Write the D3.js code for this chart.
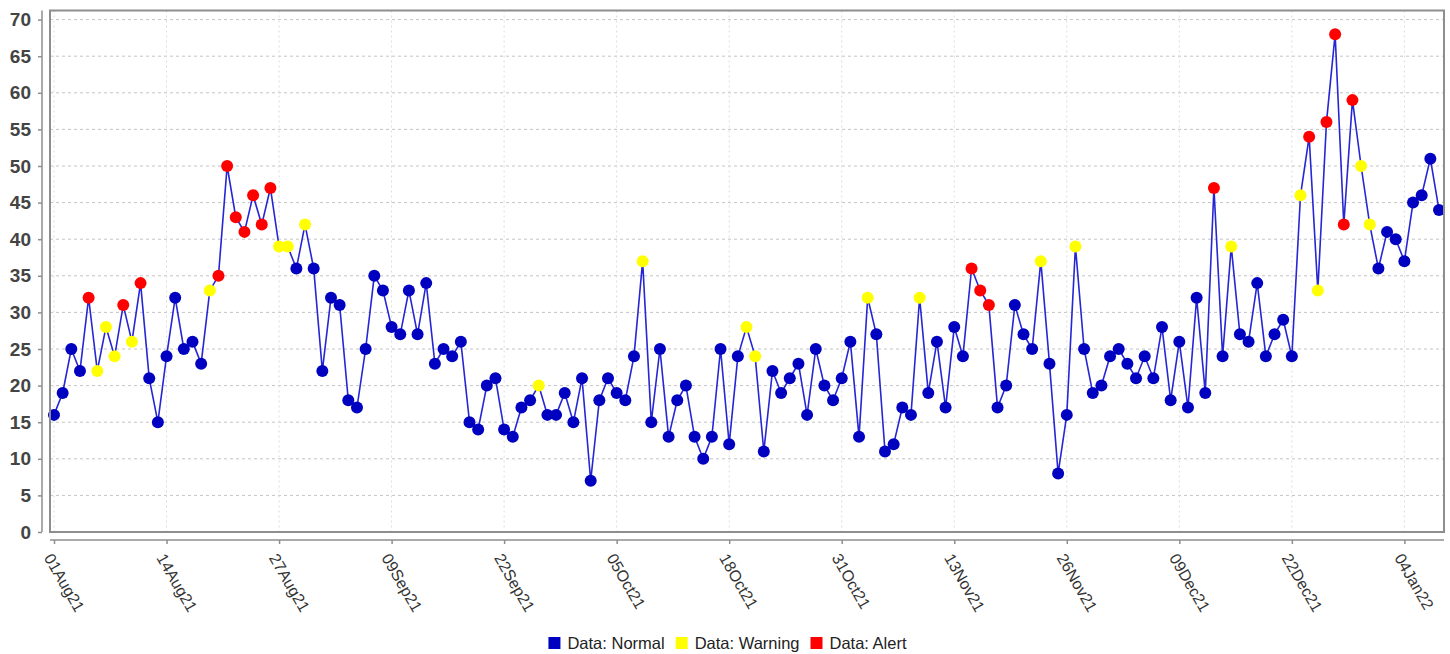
<!DOCTYPE html>
<html>
<head>
<meta charset="utf-8">
<script src="https://cdn.jsdelivr.net/npm/d3@7/dist/d3.min.js"></script>
<style>
  html, body { margin: 0; padding: 0; background: #ffffff; }
  svg { display: block; font-family: "Liberation Sans", Arial, sans-serif; }
</style>
</head>
<body>
<svg id="chart" width="1450" height="654"></svg>
<script>
// ---------------- data ----------------
const startDate = "2021-08-01";
const values = [
  16,19,25,22,32,22,28,24,31,26,34,21,15,24,32,25,26,23,33,35,
  50,43,41,46,42,47,39,39,36,42,36,22,32,31,18,17,25,35,33,28,
  27,33,27,34,23,25,24,26,15,14,20,21,14,13,17,18,20,16,16,19,
  15,21,7,18,21,19,18,24,37,15,25,13,18,20,13,10,13,25,12,24,
  28,24,11,22,19,21,23,16,25,20,18,21,26,13,32,27,11,12,17,16,
  32,19,26,17,28,24,36,33,31,17,20,31,27,25,37,23,8,16,39,25,
  19,20,24,25,23,21,24,21,28,18,26,17,32,19,47,24,39,27,26,34,
  24,27,29,24,46,54,33,56,68,42,59,50,42,36,41,40,37,45,46,51,
  44
];
const status = [
  "N","N","N","N","A","W","W","W","A","W","A","N","N","N","N","N","N","N","W","A",
  "A","A","A","A","A","A","W","W","N","W","N","N","N","N","N","N","N","N","N","N",
  "N","N","N","N","N","N","N","N","N","N","N","N","N","N","N","N","W","N","N","N",
  "N","N","N","N","N","N","N","N","W","N","N","N","N","N","N","N","N","N","N","N",
  "W","W","N","N","N","N","N","N","N","N","N","N","N","N","W","N","N","N","N","N",
  "W","N","N","N","N","N","A","A","A","N","N","N","N","N","W","N","N","N","W","N",
  "N","N","N","N","N","N","N","N","N","N","N","N","N","N","A","N","W","N","N","N",
  "N","N","N","N","W","A","W","A","A","A","A","W","W","N","N","N","N","N","N","N",
  "N"
];
const seriesNames = ["Data: Normal", "Data: Warning", "Data: Alert"];
const seriesKeys = ["N", "W", "A"];
const seriesColors = ["#0000c0", "#ffff00", "#ff0000"];
const xTickLabels = ["01Aug21","14Aug21","27Aug21","09Sep21","22Sep21","05Oct21","18Oct21",
                     "31Oct21","13Nov21","26Nov21","09Dec21","22Dec21","04Jan22"];
const yTicks = [0,5,10,15,20,25,30,35,40,45,50,55,60,65,70];

// ---------------- layout ----------------
const plot = { left: 50, right: 1444, top: 10.5, bottom: 532 };
const parse = d3.timeParse("%Y-%m-%d");
const t0 = parse(startDate);
const points = values.map((v, i) => ({ date: d3.timeDay.offset(t0, i), value: v, s: status[i] }));
const tickParse = d3.timeParse("%d%b%y");
const tickDates = xTickLabels.map(tickParse);

const x = d3.scaleTime()
  .domain([points[0].date, points[points.length - 1].date])
  .range([54, 1439]);
const y = d3.scaleLinear().domain([0, 70]).range([532, 19.6]);
const color = d3.scaleOrdinal().domain(seriesKeys).range(seriesColors);

const svg = d3.select("#chart");

// plot background
svg.append("rect")
  .attr("x", plot.left).attr("y", plot.top)
  .attr("width", plot.right - plot.left).attr("height", plot.bottom - plot.top)
  .attr("fill", "#ffffff");

// gridlines
const grid = svg.append("g");
grid.selectAll("line.h").data(yTicks.filter(d => d > 0)).join("line")
  .attr("x1", plot.left).attr("x2", plot.right)
  .attr("y1", d => y(d)).attr("y2", d => y(d))
  .attr("stroke", "#c4c4c4").attr("stroke-width", 1).attr("stroke-dasharray", "3,3");
grid.selectAll("line.v").data(tickDates).join("line")
  .attr("x1", d => x(d)).attr("x2", d => x(d))
  .attr("y1", plot.top).attr("y2", plot.bottom)
  .attr("stroke", "#dcdcdc").attr("stroke-width", 1).attr("stroke-dasharray", "2,3");

// series line
const line = d3.line().x(d => x(d.date)).y(d => y(d.value));
svg.append("path").datum(points)
  .attr("d", line).attr("fill", "none")
  .attr("stroke", "#2626d4").attr("stroke-width", 1.6);

// markers
svg.append("g").selectAll("circle").data(points).join("circle")
  .attr("cx", d => x(d.date)).attr("cy", d => y(d.value))
  .attr("r", 6)
  .attr("fill", d => color(d.s));

// plot border
svg.append("rect")
  .attr("x", plot.left).attr("y", plot.top)
  .attr("width", plot.right - plot.left).attr("height", plot.bottom - plot.top)
  .attr("fill", "none").attr("stroke", "#8e8e8e").attr("stroke-width", 2);

// y axis
const yAxis = d3.axisLeft(y).tickValues(yTicks).tickSize(4).tickPadding(7).tickSizeOuter(0);
const gy = svg.append("g").attr("transform", "translate(42,0)").call(yAxis);
gy.select(".domain").remove();
gy.append("line").attr("x1", 0).attr("x2", 0).attr("y1", plot.top).attr("y2", plot.bottom)
  .attr("stroke", "#8e8e8e").attr("stroke-width", 1.5);
gy.selectAll(".tick line").attr("stroke", "#8e8e8e").attr("stroke-width", 1.5);
gy.selectAll(".tick text")
  .attr("font-family", "'Liberation Sans', Arial, sans-serif")
  .attr("font-size", 19).attr("font-weight", "bold").attr("fill", "#444444");

// x axis
const xAxis = d3.axisBottom(x).tickValues(tickDates).tickFormat(d3.timeFormat("%d%b%y"))
  .tickSize(4).tickSizeOuter(0);
const gx = svg.append("g").attr("transform", "translate(0,540)").call(xAxis);
gx.select(".domain").remove();
gx.append("line").attr("x1", plot.left).attr("x2", plot.right).attr("y1", 0).attr("y2", 0)
  .attr("stroke", "#8e8e8e").attr("stroke-width", 1.5);
gx.selectAll(".tick line").attr("stroke", "#8e8e8e").attr("stroke-width", 1.5);
gx.selectAll(".tick text")
  .attr("font-family", "'Liberation Sans', Arial, sans-serif")
  .attr("font-size", 16).attr("fill", "#333333")
  .attr("text-anchor", "start")
  .attr("x", 0).attr("y", 0).attr("dy", "0.72em")
  .attr("transform", "translate(-1,12) rotate(60)");

// legend
const legend = svg.append("g").attr("transform", "translate(0,649)");
const items = legend.selectAll("g").data(seriesNames).join("g");
items.append("rect").attr("width", 12).attr("height", 12).attr("y", -12)
  .attr("fill", (d, i) => seriesColors[i]);
items.append("text").attr("x", 19).attr("y", 0)
  .attr("font-size", 16.5).attr("fill", "#222222").text(d => d);
let cx = 0;
const widths = [];
items.each(function () {
  const w = 19 + this.querySelector("text").getComputedTextLength();
  widths.push(w);
});
const gap = 11;
const total = d3.sum(widths) + gap * (widths.length - 1);
cx = 727.5 - total / 2;
items.attr("transform", (d, i) => {
  const tx = cx; cx += widths[i] + gap; return `translate(${tx},0)`;
});
</script>
</body>
</html>
